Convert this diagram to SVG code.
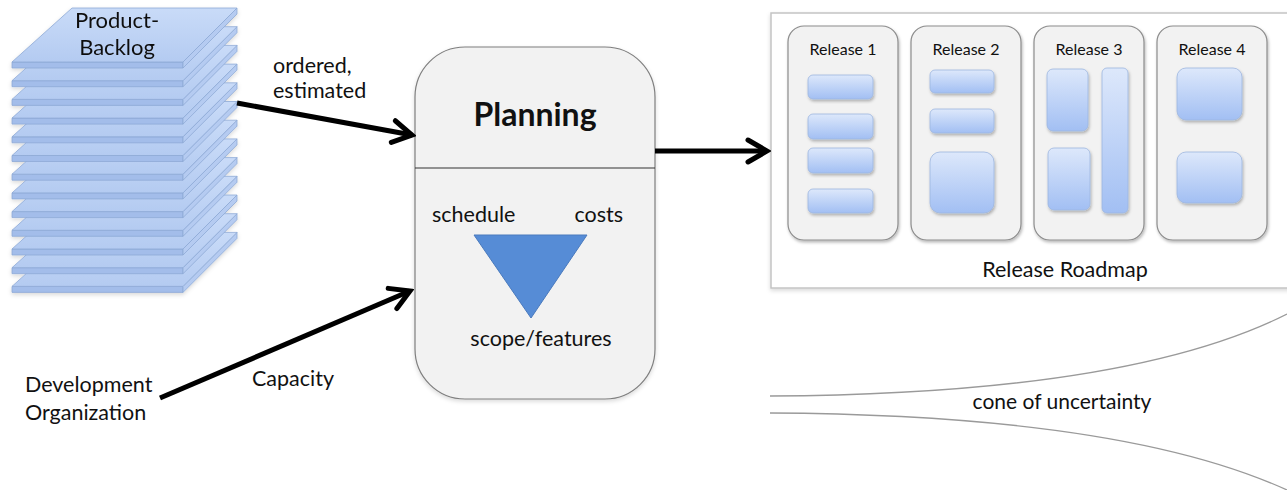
<svg xmlns="http://www.w3.org/2000/svg" width="1287" height="490" viewBox="0 0 1287 490">
<defs>
<style>
text{font-family:Lato,"Open Sans","Liberation Sans",sans-serif;fill:#111}
.lbl{font-size:21.5px}
.rel{font-size:16px;text-anchor:middle}
.col{fill:#f2f2f2;stroke:#8c8c8c;stroke-width:1.2}
.item{fill:url(#itemGrad);stroke:#9db6df;stroke-width:0.8}
.conn{fill:none;stroke:#000;stroke-width:5;stroke-linecap:butt}
.cone{fill:none;stroke:#9a9a9a;stroke-width:1.3}
.slabTop{fill:url(#slabGrad);stroke:#8ea9d6;stroke-width:0.8}
.slabFront{fill:#a3bdea;stroke:#8ea9d6;stroke-width:0.8}
.slabSide{fill:#b5cbf1;stroke:#8ea9d6;stroke-width:0.8}
</style>
<linearGradient id="itemGrad" x1="0" y1="0" x2="0" y2="1">
<stop offset="0" stop-color="#dde8fb"/>
<stop offset="1" stop-color="#a2bff3"/>
</linearGradient>
<linearGradient id="slabGrad" x1="0" y1="0" x2="0" y2="1">
<stop offset="0" stop-color="#c9dbf8"/>
<stop offset="1" stop-color="#b4cbf1"/>
</linearGradient>
<filter id="sh" x="-20%" y="-20%" width="140%" height="140%">
<feDropShadow dx="1" dy="2" stdDeviation="1.5" flood-color="#000" flood-opacity="0.28"/>
</filter>
<filter id="shSoft" x="-10%" y="-10%" width="120%" height="120%">
<feDropShadow dx="0" dy="2" stdDeviation="2" flood-color="#000" flood-opacity="0.15"/>
</filter>
<marker id="arr" markerUnits="userSpaceOnUse" viewBox="-24 -16 28 32" markerWidth="28" markerHeight="32" refX="0" refY="0" orient="auto">
<path d="M-19,-11 L0,0 L-19,11" fill="none" stroke="#000" stroke-width="5" stroke-linecap="round" stroke-linejoin="miter"/>
</marker>
<g id="slab">
<path class="slabFront" d="M12,0 L183,0 L183,6 L12,6 Z"/>
<path class="slabSide" d="M183,0 L237,-54 L237,-48 L183,6 Z"/>
<path class="slabTop" d="M12,0 L183,0 L237,-54 L72,-54 Z"/>
</g>
</defs>
<rect width="1287" height="490" fill="#fff"/>

<g id="backlog" filter="url(#shSoft)">
<use href="#slab" y="286.4"/>
<use href="#slab" y="267.7"/>
<use href="#slab" y="249"/>
<use href="#slab" y="230.3"/>
<use href="#slab" y="211.6"/>
<use href="#slab" y="192.9"/>
<use href="#slab" y="174.2"/>
<use href="#slab" y="155.5"/>
<use href="#slab" y="136.8"/>
<use href="#slab" y="118.1"/>
<use href="#slab" y="99.4"/>
<use href="#slab" y="80.7"/>
<use href="#slab" y="62"/>
<text x="117" y="28" font-size="22" text-anchor="middle">Product-</text>
<text x="117" y="55" font-size="22" text-anchor="middle">Backlog</text>
</g>

<g id="devorg">
<text class="lbl" x="25" y="392">Development</text>
<text class="lbl" x="25" y="420">Organization</text>
</g>

<g id="planning">
<rect x="415" y="47" width="240" height="352" rx="50" ry="50" fill="#f2f2f2" stroke="#7f7f7f" stroke-width="1.2" filter="url(#shSoft)"/>
<line x1="415" y1="168" x2="655" y2="168" stroke="#333" stroke-width="1.2"/>
<text x="535" y="126" font-size="32" font-weight="bold" text-anchor="middle">Planning</text>
<text class="lbl" x="432" y="222">schedule</text>
<text class="lbl" x="623" y="222" text-anchor="end">costs</text>
<path d="M474,235 L587,235 L531,318 Z" fill="#568cd6" stroke="#4a7abd" stroke-width="1"/>
<text class="lbl" x="541" y="346" text-anchor="middle">scope/features</text>
</g>

<g id="roadmap">
<rect x="771" y="13" width="520" height="275" fill="#fff" stroke="#c4c4c4" stroke-width="1.5" filter="url(#shSoft)"/>
<text x="1065" y="277" font-size="21.5" text-anchor="middle">Release Roadmap</text>
</g>

<g id="release1">
<rect class="col" x="788" y="26" width="110" height="214" rx="16" filter="url(#sh)"/>
<text class="rel" x="843" y="55">Release 1</text>
<rect class="item" x="808" y="75" width="65" height="24" rx="5" filter="url(#sh)"/>
<rect class="item" x="808" y="114" width="65" height="25" rx="5" filter="url(#sh)"/>
<rect class="item" x="808" y="148" width="65" height="25" rx="5" filter="url(#sh)"/>
<rect class="item" x="808" y="189" width="65" height="24" rx="5" filter="url(#sh)"/>
</g>
<g id="release2">
<rect class="col" x="911" y="26" width="110" height="214" rx="16" filter="url(#sh)"/>
<text class="rel" x="966" y="55">Release 2</text>
<rect class="item" x="930" y="70" width="64" height="23" rx="5" filter="url(#sh)"/>
<rect class="item" x="930" y="109" width="64" height="24" rx="5" filter="url(#sh)"/>
<rect class="item" x="930" y="152" width="64" height="61" rx="10" filter="url(#sh)"/>
</g>
<g id="release3">
<rect class="col" x="1034" y="26" width="110" height="214" rx="16" filter="url(#sh)"/>
<text class="rel" x="1089" y="55">Release 3</text>
<rect class="item" x="1047" y="69" width="41" height="62" rx="6" filter="url(#sh)"/>
<rect class="item" x="1048" y="148" width="42" height="62" rx="6" filter="url(#sh)"/>
<rect class="item" x="1102" y="68" width="26" height="145" rx="5" filter="url(#sh)"/>
</g>
<g id="release4">
<rect class="col" x="1157" y="26" width="110" height="214" rx="16" filter="url(#sh)"/>
<text class="rel" x="1212" y="55">Release 4</text>
<rect class="item" x="1177" y="68" width="65" height="52" rx="9" filter="url(#sh)"/>
<rect class="item" x="1177" y="152" width="65" height="51" rx="9" filter="url(#sh)"/>
</g>

<g id="cone">
<path class="cone" d="M770,396 C 960,395 1160,378 1287,314"/>
<path class="cone" d="M770,413 C 960,414 1160,432 1287,490"/>
<text x="1062" y="409" font-size="21" text-anchor="middle">cone of uncertainty</text>
</g>

<g id="connectors">
<path class="conn" d="M237,103 L412,135" marker-end="url(#arr)"/>
<path class="conn" d="M160,398 L410,291" marker-end="url(#arr)"/>
<path class="conn" d="M655,151 L767,151" marker-end="url(#arr)"/>
<text class="lbl" x="273" y="73">ordered,</text>
<text class="lbl" x="273" y="98">estimated</text>
<text class="lbl" x="252" y="386">Capacity</text>
</g>
</svg>
